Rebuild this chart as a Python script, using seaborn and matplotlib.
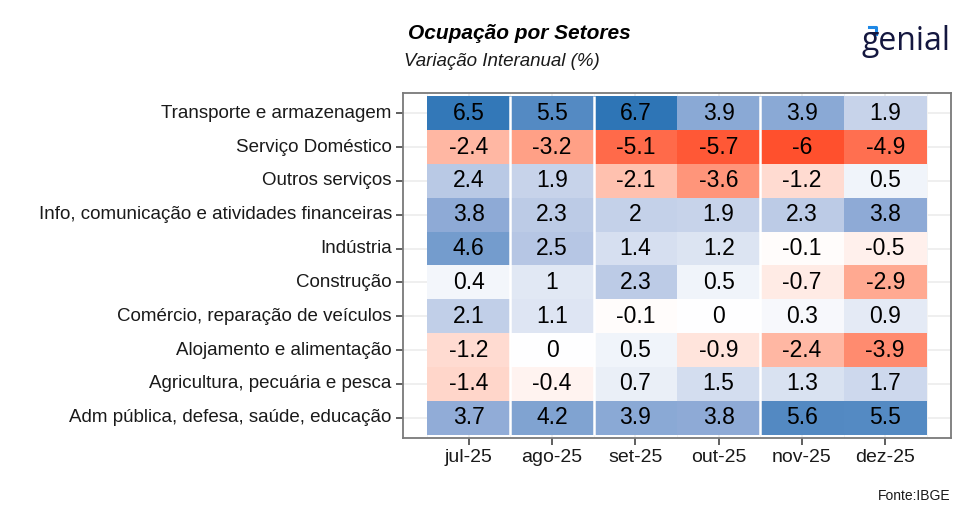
import numpy as np
import pandas as pd
import matplotlib
matplotlib.use('Agg')
import matplotlib.pyplot as plt
import seaborn as sb
from matplotlib.colors import LinearSegmentedColormap, TwoSlopeNorm
from matplotlib.lines import Line2D

# dados
setores = ['Transporte e armazenagem', 'Serviço Doméstico', 'Outros serviços',
           'Info, comunicação e atividades financeiras', 'Indústria', 'Construção',
           'Comércio, reparação de veículos', 'Alojamento e alimentação',
           'Agricultura, pecuária e pesca', 'Adm pública, defesa, saúde, educação']
meses = ['2025-07', '2025-08', '2025-09', '2025-10', '2025-11', '2025-12']
rotulos_meses = ['jul-25', 'ago-25', 'set-25', 'out-25', 'nov-25', 'dez-25']

transporte = [6.5, 5.5, 6.7, 3.9, 3.9, 1.9]
domestico = [-2.4, -3.2, -5.1, -5.7, -6, -4.9]
outros = [2.4, 1.9, -2.1, -3.6, -1.2, 0.5]
info = [3.8, 2.3, 2, 1.9, 2.3, 3.8]
industria = [4.6, 2.5, 1.4, 1.2, -0.1, -0.5]
construcao = [0.4, 1, 2.3, 0.5, -0.7, -2.9]
comercio = [2.1, 1.1, -0.1, 0, 0.3, 0.9]
alojamento = [-1.2, 0, 0.5, -0.9, -2.4, -3.9]
agricultura = [-1.4, -0.4, 0.7, 1.5, 1.3, 1.7]
adm = [3.7, 4.2, 3.9, 3.8, 5.6, 5.5]

df = pd.DataFrame([transporte, domestico, outros, info, industria, construcao,
                   comercio, alojamento, agricultura, adm],
                  index=setores, columns=rotulos_meses)

plt.rcParams['font.family'] = ['Liberation Sans', 'DejaVu Sans']

# gradiente vermelho-branco-azul (tons intermediários tipo Lab)
cmap = LinearSegmentedColormap.from_list(
    'rb', [(0.0, '#FF502D'), (0.25, '#FFA68D'), (0.5, '#FFFFFF'),
           (0.75, '#9DB3DB'), (1.0, '#2E75B6')])
norm = TwoSlopeNorm(vmin=df.values.min(), vcenter=0, vmax=df.values.max())
annot = df.map(lambda v: f'{v:g}')

fig = plt.figure(figsize=(9.75, 5.25), dpi=100)
ax = fig.add_axes([0.4133, 0.1657, 0.5621, 0.6572])

ax.set_axisbelow(True)
for i in range(len(setores)):
    ax.axhline(i + 0.5, color='#EBEBEB', lw=1.1, zorder=0)
for j in range(len(meses)):
    ax.axvline(j + 0.5, color='#EBEBEB', lw=1.1, zorder=0)
    ax.axvline(j, color='#F3F3F3', lw=0.6, zorder=0)
ax.axvline(len(meses), color='#F3F3F3', lw=0.6, zorder=0)

sb.heatmap(df, ax=ax, cmap=cmap, norm=norm, annot=annot, fmt='', cbar=False,
           annot_kws={'fontsize': 16.5, 'color': 'black'})

# espaços brancos entre meses de 31 dias (tiles de 30 dias num eixo de datas)
dias = [pd.Period(m, freq='M').days_in_month for m in meses]
for j, d in enumerate(dias[:-1]):
    if d == 31:
        ax.vlines(j + 1, 0, len(setores), color='white', lw=1.8, zorder=3)

ax.set_xlim(-0.29, len(meses) + 0.29)
ax.set_ylim(len(setores) + 0.1, -0.1)
ax.set_xlabel('')
ax.set_ylabel('')
ax.set_xticklabels(rotulos_meses, rotation=0, fontsize=14, color='#1a1a1a')
ax.set_yticklabels(setores, rotation=0, fontsize=13.5, color='#1a1a1a')
ax.tick_params(axis='both', length=5, width=1.1, color='#333333', pad=3)

for s in ax.spines.values():
    s.set_visible(True)
    s.set_color('#7a7a7a')
    s.set_linewidth(1.3)

fig.text(0.4185, 0.925, 'Ocupação por Setores', fontsize=15, fontweight='bold',
         fontstyle='italic', color='black', va='baseline')
fig.text(0.414, 0.875, 'Variação Interanual (%)', fontsize=13.5,
         fontstyle='italic', color='#1a1a1a', va='baseline')
fig.text(0.975, 0.048, 'Fonte:IBGE', fontsize=10, ha='right', color='#1a1a1a')

# logo
fig.text(0.975, 0.905, 'genial', fontsize=23, family='Open Sans', ha='right',
         color='#14173f', va='baseline')
fig.add_artist(Line2D([0.8915, 0.898, 0.898], [0.948, 0.948, 0.935],
                      transform=fig.transFigure, color='#1E88E5', lw=2.2))

plt.savefig('out.png', dpi=100)
